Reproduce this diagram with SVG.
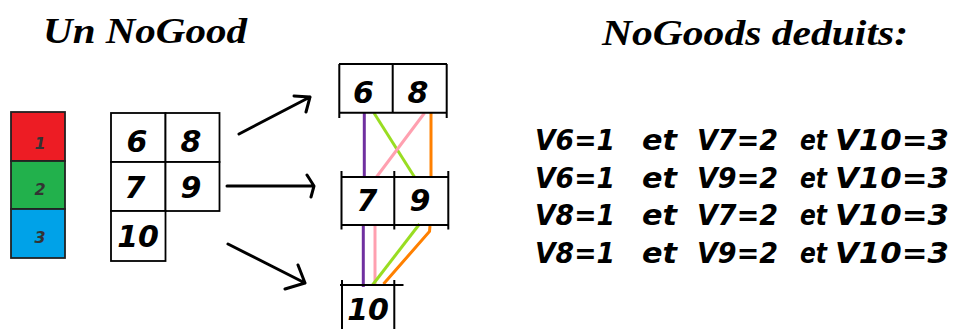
<svg xmlns="http://www.w3.org/2000/svg" width="954" height="329" viewBox="0 0 954 329">
<style>
.bx{fill:none;stroke:#000;stroke-width:2}
.cell{fill:#fff;stroke:#000;stroke-width:1.8}
.lg{stroke:#222;stroke-width:1.8}
.num{font-family:"DejaVu Sans",sans-serif;font-weight:bold;font-style:italic;font-size:30px;fill:#000;text-anchor:middle}
.lnum{font-family:"DejaVu Sans",sans-serif;font-weight:bold;font-style:italic;font-size:16px;fill:#333;text-anchor:middle}
.ttl{font-family:"Liberation Serif",serif;font-weight:bold;font-style:italic;font-size:36px;fill:#000}
.eq{font-family:"DejaVu Sans",sans-serif;font-weight:bold;font-style:italic;font-size:29px;fill:#000}
.arr{fill:none;stroke:#000;stroke-width:3;stroke-linecap:round;stroke-linejoin:round}
.c{fill:none;stroke-width:3;stroke-linecap:butt}
</style>
<rect width="954" height="329" fill="#fff"/>

<g id="title-left"><text class="ttl" x="43" y="43" textLength="204" lengthAdjust="spacingAndGlyphs">Un NoGood</text></g>
<g id="title-right"><text class="ttl" x="602" y="45" textLength="306" lengthAdjust="spacingAndGlyphs">NoGoods deduits:</text></g>

<g id="legend">
<rect class="lg" x="11" y="112" width="54" height="49" fill="#ed1c24"/>
<rect class="lg" x="11" y="161" width="54" height="48" fill="#22b14c"/>
<rect class="lg" x="11" y="209" width="54" height="49" fill="#00a2e8"/>
<text class="lnum" x="40" y="149">1</text>
<text class="lnum" x="40" y="195">2</text>
<text class="lnum" x="40" y="243">3</text>
</g>

<g id="grid">
<rect class="cell" x="111" y="113" width="54.5" height="49"/>
<rect class="cell" x="165.5" y="113" width="54" height="49"/>
<rect class="cell" x="111" y="162" width="54.5" height="49"/>
<rect class="cell" x="165.5" y="162" width="54" height="49"/>
<rect class="cell" x="111" y="211" width="54.5" height="50"/>
<text class="num" x="137" y="152">6</text>
<text class="num" x="191" y="152">8</text>
<text class="num" x="135" y="198">7</text>
<text class="num" x="191" y="198">9</text>
<text class="num" x="138" y="247">10</text>
</g>

<g id="connectors">
<path class="arr" d="M239,134 L310,97 M294,96 L310,97 L306,112"/>
<path class="arr" d="M227,186 L314,186 M307,175 L314,186 L311,197"/>
<path class="arr" d="M228,244 L305,283 M298,265 L305,283 L285,289"/>
<line class="c" stroke="#7030a0" x1="364.3" y1="113" x2="364.3" y2="178"/>
<line class="c" stroke="#99dd22" x1="374" y1="113" x2="414.5" y2="177"/>
<line class="c" stroke="#ffa0b0" x1="424.5" y1="113" x2="376.5" y2="177"/>
<line class="c" stroke="#ff8000" x1="431" y1="113" x2="431" y2="177"/>
<line class="c" stroke="#7030a0" x1="363.3" y1="225" x2="363.3" y2="287"/>
<line class="c" stroke="#ffa0b0" x1="375" y1="225" x2="375" y2="286"/>
<line class="c" stroke="#99dd22" x1="419.5" y1="224" x2="372.5" y2="285"/>
<polyline class="c" stroke="#ff8000" points="430,226 429.5,231.5 383.5,284"/>
</g>

<g id="node-68">
<path class="bx" d="M339,64 H447 M339,112.7 H447 M339.3,64 V118 M392.7,64 V112.7 M446.7,64 V118"/>
<text class="num" x="363.5" y="103">6</text>
<text class="num" x="418" y="103">8</text>
</g>
<g id="node-79">
<path class="bx" d="M341,177 H448.5 M341,225 H448.5 M341.5,171 V229.5 M394.3,171 V229.5 M448.3,171 V229.5"/>
<text class="num" x="367" y="211">7</text>
<text class="num" x="420" y="211">9</text>
</g>
<g id="node-10">
<path class="bx" d="M340,285 H403.5 M342,280 V329 M394.3,280 V329"/>
<text class="num" x="368" y="320">10</text>
</g>

<g id="nogoods">
<text class="eq" x="535" y="150" textLength="80" lengthAdjust="spacingAndGlyphs">V6=1</text>
<text class="eq" x="642" y="150" textLength="35" lengthAdjust="spacingAndGlyphs">et</text>
<text class="eq" x="697" y="150" textLength="81" lengthAdjust="spacingAndGlyphs">V7=2</text>
<text class="eq" x="800" y="150" textLength="27" lengthAdjust="spacingAndGlyphs">et</text>
<text class="eq" x="835" y="150" textLength="114" lengthAdjust="spacingAndGlyphs">V10=3</text>

<text class="eq" x="535" y="187.5" textLength="80" lengthAdjust="spacingAndGlyphs">V6=1</text>
<text class="eq" x="642" y="187.5" textLength="35" lengthAdjust="spacingAndGlyphs">et</text>
<text class="eq" x="697" y="187.5" textLength="81" lengthAdjust="spacingAndGlyphs">V9=2</text>
<text class="eq" x="800" y="187.5" textLength="27" lengthAdjust="spacingAndGlyphs">et</text>
<text class="eq" x="835" y="187.5" textLength="114" lengthAdjust="spacingAndGlyphs">V10=3</text>

<text class="eq" x="535" y="225" textLength="80" lengthAdjust="spacingAndGlyphs">V8=1</text>
<text class="eq" x="642" y="225" textLength="35" lengthAdjust="spacingAndGlyphs">et</text>
<text class="eq" x="697" y="225" textLength="81" lengthAdjust="spacingAndGlyphs">V7=2</text>
<text class="eq" x="800" y="225" textLength="27" lengthAdjust="spacingAndGlyphs">et</text>
<text class="eq" x="835" y="225" textLength="114" lengthAdjust="spacingAndGlyphs">V10=3</text>

<text class="eq" x="535" y="262.5" textLength="80" lengthAdjust="spacingAndGlyphs">V8=1</text>
<text class="eq" x="642" y="262.5" textLength="35" lengthAdjust="spacingAndGlyphs">et</text>
<text class="eq" x="697" y="262.5" textLength="81" lengthAdjust="spacingAndGlyphs">V9=2</text>
<text class="eq" x="800" y="262.5" textLength="27" lengthAdjust="spacingAndGlyphs">et</text>
<text class="eq" x="835" y="262.5" textLength="114" lengthAdjust="spacingAndGlyphs">V10=3</text>
</g>
</svg>
